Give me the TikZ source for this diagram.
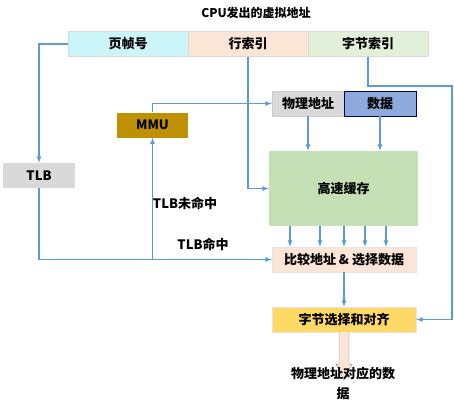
\documentclass[tikz,border=0pt]{standalone}
\usepackage{fontspec}
\setmainfont{Noto Sans CJK SC}
\definecolor{cyanf}{RGB}{204,245,250}
\definecolor{peachf}{RGB}{251,229,214}
\definecolor{greenf}{RGB}{226,240,217}
\definecolor{greyf}{RGB}{217,217,217}
\definecolor{goldf}{RGB}{191,144,0}
\definecolor{bluef}{RGB}{142,169,219}
\definecolor{cachef}{RGB}{197,224,180}
\definecolor{yellowf}{RGB}{255,217,102}
\definecolor{linec}{RGB}{91,155,213}
\begin{document}
\begin{tikzpicture}[
	x=1pt, y=-1pt,
	font=\fontsize{13}{15}\selectfont\bfseries,
	box/.style={ rectangle, inner sep=0pt, minimum width=#1, minimum height=25pt },
	box/.default=72pt,
	flow/.style={ draw=linec, line width=1.2pt, -latex },
	tag/.style={ inner sep=1pt }
]
\useasboundingbox (0,0) rectangle (454,407);

\node at (256,13) (title) [tag,font=\fontsize{12}{14}\selectfont\bfseries] {CPU发出的虚拟地址};
\node at (128,44) (yzh) [box=120pt,fill=cyanf,draw=black!15] {页帧号};
\node at (248,44) (hsy) [box=120pt,fill=peachf,draw=black!15] {行索引};
\node at (368,44) (zjsy) [box=120pt,fill=greenf,draw=black!15] {字节索引};
\node at (39,175.5) (tlb) [box,fill=greyf] {TLB};
\node at (152.5,125) (mmu) [box=71pt,fill=goldf] {MMU};
\node at (308,103.5) (pa) [box,fill=greyf,draw=black!20] {物理地址};
\node at (380,103.5) (data) [box,fill=bluef,draw=blue!40!black] {数据};
\node at (343.5,188.5) (cache) [box=149pt,minimum height=75pt,fill=cachef] {高速缓存};
\node at (344,259.5) (cmp) [box=144pt,fill=peachf,draw=black!10] {比较地址 \& 选择数据};
\node at (344,319.5) (sel) [box=144pt,fill=yellowf,draw=black!10] {字节选择和对齐};
\coordinate (rt) at (452,86);

\draw[flow] (yzh.west) -| (tlb.north);
\draw[flow] (tlb.south) |- (cmp.west);
\draw[flow] (mmu.south |- cmp.west) -- (mmu.south);
\draw[flow] (mmu.north) |- (pa.west);
\fill[linec] (hsy.south |- pa.west) circle (1.5pt);
\draw[flow] (hsy.south) |- (cache.west);
\draw[flow] (pa.south) -- (pa.south |- cache.north);
\draw[flow] (data.south) -- (data.south |- cache.north);
\foreach \dx in {-53.5,-23.5,0.5,21.5,42.5}
	\draw[flow] ([xshift=\dx pt]cache.south) -- ([xshift=\dx pt]cache.south |- cmp.north);
\draw[flow] (cmp.south) -- (sel.north);
\draw[flow] (zjsy.south) |- (rt) |- (sel.east);

\node at (185,203) (miss) [tag] {TLB未命中};
\node at (203,244) (hit) [tag] {TLB命中};

% output block arrow
\draw[fill=peachf,draw=black!50] ([xshift=-5pt]sel.south) -- ++(0,32) -- ++(-3,0)
	-- ++(8,16) -- ++(8,-16) -- ++(-3,0) -- ++(0,-32);
\node at (343,383) (out) [tag,align=center,font=\fontsize{13}{20}\selectfont\bfseries] {物理地址对应的数\\据};
\end{tikzpicture}
\end{document}
